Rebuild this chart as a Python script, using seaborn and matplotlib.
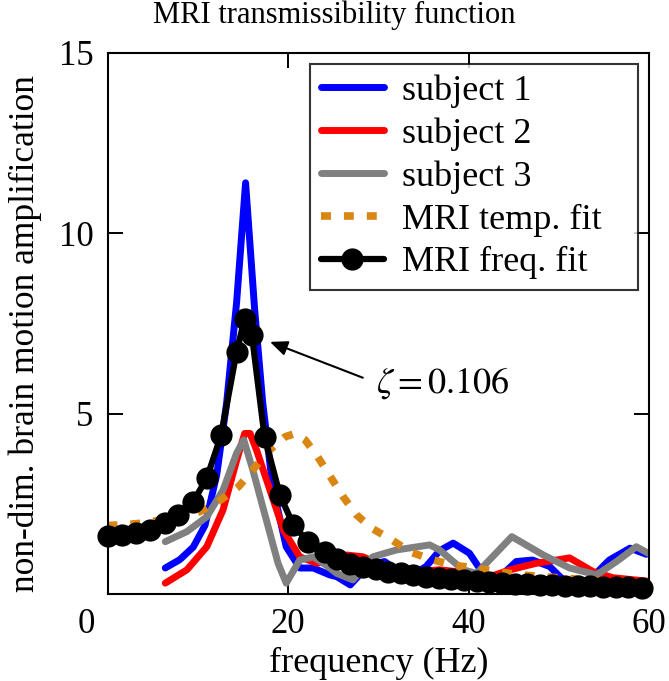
import matplotlib
matplotlib.use("Agg")
import matplotlib.pyplot as plt
import matplotlib.transforms as mtransforms
import seaborn as sns

# subject 1 (blue)
s1_hz = [6.4, 8.0, 9.5, 10.8, 12.1, 13.2, 14.3, 15.3, 16.3, 17.2, 18.3, 19.8, 21.3, 22.8, 24.6,
         25.4, 26.9, 28.0, 29.1, 30.7, 32.0, 33.5, 35.3, 36.8, 38.3, 40.1, 41.6, 43.1, 45.3,
         47.1, 49.0, 50.5, 52.0, 53.4, 55.6, 57.9, 59.7]
s1_amp = [0.72, 0.95, 1.3, 1.9, 3.3, 5.3, 8.07, 11.4, 7.9, 5.3, 2.97, 1.31, 0.72, 0.72, 0.53,
          0.48, 0.25, 0.55, 0.80, 0.9, 0.67, 0.5, 0.76, 1.2, 1.41, 1.13, 0.57, 0.39, 0.9,
          0.94, 0.76, 0.39, 0.3, 0.39, 0.94, 1.27, 1.1]

# subject 2 (red)
s2_hz = [6.4, 8.8, 11.0, 12.8, 14.3, 15.2, 15.8, 16.5, 18.0, 19.5, 21.3, 23.2, 24.8, 26.5,
         28.3, 30.0, 32.0, 34.0, 36.8, 39.4, 42.4, 44.6, 47.5, 51.2, 53.8, 56.0, 58.0, 60.0]
s2_amp = [0.30, 0.67, 1.31, 2.33, 3.7, 4.45, 4.45, 4.0, 2.88, 1.77, 1.03, 0.85, 0.95, 1.08,
          1.03, 0.85, 0.70, 0.62, 0.67, 0.6, 0.48, 0.67, 0.85, 1.0, 0.62, 0.45, 0.40, 0.35]

# subject 3 (gray)
s3_hz = [6.4, 8.8, 11.0, 12.8, 14.3, 15.1, 16.1, 17.6, 18.9, 19.8, 21.3, 22.8, 24.2, 25.4,
         27.2, 29.4, 32.0, 35.7, 36.8, 39.4, 40.9, 44.8, 48.3, 51.2, 54.2, 56.4, 58.6, 59.9]
s3_amp = [1.45, 1.73, 2.14, 2.88, 3.9, 4.27, 3.44, 2.05, 0.85, 0.30, 0.94, 1.03, 0.8, 0.57,
          0.39, 1.03, 1.22, 1.36, 1.22, 0.67, 0.57, 1.59, 1.08, 0.72, 0.53, 0.9, 1.31, 1.13]

# MRI temporal fit (orange, dotted)
temp_hz = [0, 2, 4, 6, 8, 10.2, 12.5, 14.5, 16.1, 18.0, 19.7, 20.8, 21.9, 23.3, 24.7, 26.1,
           27.6, 29.3, 31.5, 33.5, 36.1, 38.3, 40.7, 43.1, 45.7, 48.3, 51.0, 53.4, 56.0, 60.0]
temp_amp = [1.9, 1.92, 1.97, 2.05, 2.15, 2.28, 2.6, 2.97, 3.44, 4.0, 4.36, 4.45, 4.27, 3.8,
            3.25, 2.7, 2.19, 1.82, 1.5, 1.17, 0.94, 0.8, 0.72, 0.62, 0.53, 0.48, 0.43, 0.39,
            0.36, 0.32]

# MRI frequency fit (black, markers)
freq_hz = [0.0, 1.6, 3.2, 4.7, 6.4, 7.8, 9.5, 11.0, 12.6, 14.3, 15.2, 16.0, 17.4, 19.1, 20.6,
           22.2, 24.1, 25.4, 26.9, 28.3, 29.7, 31.1, 32.5, 33.9, 35.3, 36.7, 38.1, 39.5, 40.9,
           42.3, 43.7, 45.1, 46.5, 47.9, 49.3, 50.7, 52.1, 53.5, 54.9, 56.3, 57.7, 59.2]
freq_amp = [1.62, 1.63, 1.68, 1.77, 1.96, 2.19, 2.56, 3.21, 4.41, 6.72, 7.62, 7.18, 4.36, 2.74,
            1.91, 1.45, 1.17, 0.96, 0.82, 0.74, 0.68, 0.62, 0.57, 0.52, 0.48, 0.44, 0.41, 0.38,
            0.35, 0.33, 0.31, 0.29, 0.27, 0.25, 0.24, 0.23, 0.22, 0.21, 0.20, 0.19, 0.18, 0.17]

sns.set_style("ticks")
plt.rcParams['font.family'] = ['Liberation Serif', 'DejaVu Serif']
plt.rcParams['mathtext.fontset'] = 'stix'
for key in ['text.color', 'axes.labelcolor', 'xtick.color', 'ytick.color', 'axes.edgecolor']:
    plt.rcParams[key] = 'black'

fig = plt.figure(figsize=(6.69, 6.81), dpi=100)
ax = fig.add_axes([0.1607, 0.1278, 0.8094, 0.7944])

kw = dict(ax=ax, estimator=None, sort=False)
sns.lineplot(x=s1_hz, y=s1_amp, color='#0000FF', lw=5.0, label='subject 1', **kw)
sns.lineplot(x=s2_hz, y=s2_amp, color='#FF0000', lw=5.0, label='subject 2', **kw)
sns.lineplot(x=s3_hz, y=s3_amp, color='#808080', lw=5.0, label='subject 3', **kw)
sns.lineplot(x=temp_hz, y=temp_amp, color='#D98613', lw=5.5, linestyle=(0, (1.3, 1.7)),
             label='MRI temp. fit', **kw)
sns.lineplot(x=freq_hz, y=freq_amp, color='black', lw=4.5, marker='o', markersize=16,
             markeredgewidth=0, label='MRI freq. fit', clip_on=False, **kw)

ax.set_xlim(0, 60)
ax.set_ylim(0, 15)
ax.set_xticks([0, 20, 40, 60])
ax.set_yticks([5, 10, 15])
ax.tick_params(direction='in', length=10.5, width=1.4, labelsize=25, top=True, right=True,
               pad=10)
for sp in ax.spines.values():
    sp.set_linewidth(1.5)

# the "0" label sits a little left of the axis in the original
lbl0 = ax.get_xticklabels()[0]
lbl0.set_transform(lbl0.get_transform() + mtransforms.ScaledTranslation(-21 / 100, 0, fig.dpi_scale_trans))

ax.set_xlabel('frequency (Hz)', fontsize=26, labelpad=4)
ax.set_ylabel('non-dim. brain motion amplification', fontsize=25.5)
ax.yaxis.set_label_coords(-0.121, 0.482)
fig.text(0.5, 0.978, 'MRI transmissibility function', ha='center', va='center', fontsize=22)

ax.annotate(r'$\zeta = 0.106$', xy=(18.0, 6.99), xytext=(29.8, 5.85), fontsize=26,
            ha='left', va='center',
            arrowprops=dict(arrowstyle='-|>,head_length=0.7,head_width=0.3', mutation_scale=15,
                            color='black', lw=1.5, shrinkA=8, shrinkB=0, relpos=(0, 0.5)))

leg = ax.legend(loc='upper left', bbox_to_anchor=(0.374, 0.0, 0.606, 0.980), mode='expand',
                borderaxespad=0, fontsize=26, handlelength=1.75, handletextpad=0.5,
                labelspacing=0.26, frameon=True, fancybox=False, borderpad=0.3)
leg.get_frame().set_edgecolor('black')
leg.get_frame().set_linewidth(1.5)

fig.savefig('out.png', dpi=100)
